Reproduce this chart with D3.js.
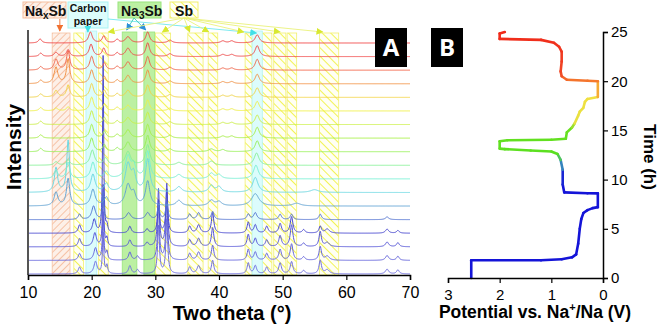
<!DOCTYPE html>
<html>
<head>
<meta charset="utf-8">
<script src="https://cdn.jsdelivr.net/npm/d3@7"></script>
<style>
  body { margin: 0; background: #fff; }
  svg { display: block; font-family: "Liberation Sans", Arial, sans-serif; }
</style>
</head>
<body>
<div id="chart"></div>
<script>
// ---- data ----
const thetaTicks = [10, 20, 30, 40, 50, 60, 70];
const timeTicks = [0, 5, 10, 15, 20, 25];
const potentialTicks = [3, 2, 1, 0];

// one colour per XRD scan, bottom (first) to top (last)
const traceColors = ["#7070e0", "#6464dc", "#5656d8", "#4848d0", "#5474d2", "#62a4d4",
  "#6cd8e2", "#78f0d4", "#88f098", "#98f058", "#a8f048", "#ccf048",
  "#f0f048", "#f2d448", "#f29448", "#f26448", "#f04c4c", "#f04444"];

// peaks of each scan: [two theta, height (in scan spacings), fwhm]
const peakLists = [
  [[18.1,.5,.5],[20.6,.9,.6],[21.8,3.0,.25],[22.4,.6,.3],[26.0,.6,.5],[27.2,.3,.5],[30.5,3.5,.35],[31.8,4.0,.35],[35.4,.5,.5],[36.8,.6,.6],[39.0,1.0,.45],[44.6,.8,.45],[45.7,.6,.5],[47.5,.5,.5],[49.6,.8,.5],[51.4,.9,.5],[53.3,.25,.5],[55.9,1.0,.45],[57.0,.3,.8],[66.4,.35,.6],[68.1,.3,.5]],
  [[18.1,.5,.5],[20.6,.9,.6],[21.8,3.5,.25],[22.4,.6,.3],[26.0,.6,.5],[27.2,.3,.5],[30.5,3.8,.35],[31.8,4.3,.35],[35.4,.5,.5],[36.8,.6,.6],[39.0,1.1,.45],[44.6,.8,.45],[45.7,.6,.5],[47.5,.5,.5],[49.6,.8,.5],[51.4,1.2,.5],[53.3,.25,.5],[55.9,1.0,.45],[57.0,.3,.8],[66.4,.35,.6],[68.1,.3,.5]],
  [[18.1,.6,.5],[20.5,1.0,.6],[21.8,4.5,.25],[22.4,.6,.3],[26.0,.5,.5],[28.7,.3,.5],[30.5,4.2,.35],[31.8,4.6,.35],[35.4,.5,.5],[36.8,.6,.6],[39.0,1.4,.45],[44.6,.9,.45],[45.7,.6,.5],[47.5,.5,.5],[49.6,.8,.5],[51.4,1.6,.5],[53.3,.25,.5],[55.9,1.1,.45],[57.0,.3,.8],[66.4,.35,.6],[68.1,.3,.5]],
  [[18.1,.6,.5],[20.4,1.0,.6],[21.8,13,.2],[22.4,.5,.3],[26.0,.5,.5],[28.7,.3,.5],[30.5,2.4,.35],[31.8,3.2,.35],[35.4,.5,.5],[36.8,.6,.6],[39.0,1.5,.45],[44.6,.8,.45],[45.7,.6,.5],[47.5,.5,.5],[49.6,.7,.5],[51.4,1.2,.5],[53.3,.25,.5],[55.9,.5,.45],[57.0,.3,.8],[66.4,.3,.6],[68.1,.2,.5]],
  [[18.1,.4,.5],[20.3,1.0,.7],[21.8,2.0,.25],[25.8,.5,.8],[28.8,.5,.8],[30.5,1.0,.4],[31.8,1.3,.4],[35.4,.4,.5],[36.8,.5,.6],[39.0,.6,.5],[44.6,.4,.5],[45.7,.5,.6],[49.6,.4,.5],[51.4,.4,.5],[55.9,.4,.5],[66.4,.2,.6]],
  [[14.4,1.0,.7],[16.3,2.0,.6],[20.2,1.2,.8],[22.3,.6,.8],[25.7,1.5,1.0],[26.6,.8,.8],[28.8,1.8,.8],[33.7,.4,1],[38.8,.4,1],[40.0,.3,1],[45.7,.9,1.4],[52.2,.2,1.5]],
  [[14.4,1.8,.6],[16.3,3.8,.5],[20.2,1.3,.8],[22.3,.6,.8],[25.7,2.0,1.0],[26.6,1.2,.8],[28.8,2.4,.8],[33.7,.4,1],[38.8,.5,.9],[40.0,.4,.9],[45.7,1.1,1.0],[55,.2,1.5]],
  [[14.4,.6,.7],[16.3,1.2,.6],[20.2,1.2,.8],[22.3,.5,.8],[25.7,1.6,1.0],[26.6,.9,.8],[28.8,2.0,.8],[33.7,.3,1],[38.8,.4,.9],[40.0,.3,.9],[45.8,1.0,.9]],
  [[14.4,.25,.7],[16.3,.4,.6],[20.1,1.1,.8],[22.2,.5,.8],[25.7,1.0,1.0],[28.8,1.5,.8],[33.7,.2,1],[38.8,.3,1],[45.9,.9,.9]],
  [[12.0,.25,.6],[20.0,1.0,.7],[22.0,.5,.6],[24.0,.25,.6],[25.7,.7,.9],[28.8,1.2,.7],[32.3,.2,.8],[38.8,.2,1],[40.6,.15,.8],[46.0,.8,.8]],
  [[12.0,.25,.6],[20.0,1.0,.7],[22.0,.5,.6],[24.0,.25,.6],[25.7,.6,.9],[28.8,1.0,.7],[32.3,.2,.8],[40.6,.15,.8],[42.0,.15,.8],[46.0,.8,.8]],
  [[12.0,.25,.6],[20.0,1.0,.7],[22.0,.5,.6],[24.0,.25,.6],[25.7,.5,.9],[28.8,.9,.7],[32.3,.2,.8],[40.6,.15,.8],[42.0,.15,.8],[46.0,.7,.8]],
  [[12.0,.25,.6],[14.4,.2,.7],[16.3,.3,.6],[20.0,1.0,.7],[22.0,.5,.6],[24.0,.25,.6],[25.7,.4,.9],[28.8,.8,.7],[32.3,.2,.8],[40.6,.15,.8],[42.0,.15,.8],[46.0,.7,.8]],
  [[12.0,.25,.6],[14.4,.5,.7],[16.3,.9,.6],[20.0,1.0,.7],[22.0,.5,.6],[24.0,.25,.6],[25.7,.5,.9],[28.8,.9,.7],[32.3,.2,.8],[40.6,.15,.8],[42.0,.15,.8],[46.0,.7,.8]],
  [[12.0,.25,.6],[14.4,1.2,.7],[16.3,1.8,.6],[20.0,1.0,.7],[22.0,.5,.6],[24.0,.25,.6],[25.7,.6,.9],[28.8,1.0,.7],[32.3,.2,.8],[40.6,.15,.8],[42.0,.15,.8],[46.0,.7,.8]],
  [[12.0,.25,.6],[14.4,.8,.7],[16.3,1.4,.6],[20.0,1.0,.7],[22.0,.5,.6],[24.0,.25,.6],[25.7,.6,.9],[28.8,1.0,.7],[32.3,.2,.8],[40.6,.15,.8],[42.0,.15,.8],[46.0,.8,.8]],
  [[12.0,.25,.6],[14.4,.3,.7],[16.3,.5,.6],[19.9,.9,.7],[21.9,.6,.6],[24.0,.25,.6],[25.7,.6,.9],[28.8,1.0,.7],[32.3,.2,.8],[40.6,.15,.8],[42.0,.15,.8],[46.0,.8,.8]],
  [[11.9,.3,.6],[19.8,.8,.7],[21.9,.5,.6],[24.0,.25,.6],[25.7,.45,.9],[28.8,.8,.7],[32.3,.2,.8],[40.6,.15,.8],[42.0,.15,.8],[46.0,.6,.8]]
];

// phase marker ranges (two theta)
const naxsbRanges = [[13.8, 16.6]];
const carbonRanges = [[19.1, 20.8], [45.2, 46.8]];
const na3sbRanges = [[24.8, 27.1], [28.2, 29.9]];
const sbRanges = [[17.2, 18.7], [21.1, 22.6], [30.0, 32.4], [35.1, 37.5], [38.3, 39.8],
  [44.1, 45.2], [46.7, 48.3], [48.6, 50.5], [50.7, 52.2], [55.8, 58.8]];

// arrow targets (two theta)
const naxsbArrows = [15.0];
const carbonArrows = [19.4, 45.9];
const na3sbArrows = [25.5, 28.5];
const sbArrows = [22.6, 31.1, 35.4, 38.4, 43.9, 49.6, 56.3];

// galvanostatic profile
const timeH = [0, 1.8, 1.81, 1.9, 2.1, 2.4, 3.5, 5, 6, 6.6, 6.9, 7.1, 7.2, 8.6, 8.62, 8.7, 9.5, 11, 12, 12.6,
  12.85, 12.95, 13.1, 13.15, 13.9, 14.0, 14.05, 14.15, 14.8, 15.3, 15.7, 16.5, 16.9, 17.3, 17.9, 18.2, 18.4,
  20.0, 20.05, 20.15, 20.5, 21, 22, 23, 23.5, 23.9, 24.2, 24.3, 24.85, 25.0];
const potentialV = [2.55, 2.55, 1.2, 0.8, 0.6, 0.52, 0.48, 0.45, 0.42, 0.38, 0.3, 0.2, 0.1, 0.1, 0.3, 0.75,
  0.78, 0.78, 0.82, 0.88, 1.0, 1.4, 1.9, 2.0, 2.0, 1.85, 1.0, 0.72, 0.7, 0.6, 0.55, 0.48, 0.45, 0.38, 0.35, 0.3, 0.1,
  0.1, 0.3, 0.7, 0.8, 0.82, 0.8, 0.8, 0.85, 0.95, 1.2, 2.0, 2.0, 1.9];

// ---- drawing ----
const W = 661, H = 326;
const svg = d3.select("#chart").append("svg").attr("width", W).attr("height", H);
const defs = svg.append("defs");

function hatch(id, color, bg, dir, gap, sw) {
  const p = defs.append("pattern").attr("id", id).attr("patternUnits", "userSpaceOnUse")
    .attr("width", gap).attr("height", gap)
    .attr("patternTransform", "rotate(" + dir + ")");
  p.append("rect").attr("width", gap).attr("height", gap).attr("fill", bg);
  p.append("line").attr("x1", 0).attr("y1", 0).attr("x2", 0).attr("y2", gap)
    .attr("stroke", color).attr("stroke-width", sw);
}
hatch("hNa", "#f2a47a", "#fdf0e8", 45, 5, 1.2);
hatch("hSb", "#eef020", "#fffff4", -45, 6, 1.5);

function marker(id, color) {
  defs.append("marker").attr("id", id).attr("viewBox", "0 0 10 10")
    .attr("refX", 9).attr("refY", 5).attr("markerWidth", 7).attr("markerHeight", 7)
    .attr("markerUnits", "userSpaceOnUse").attr("orient", "auto")
    .append("path").attr("d", "M0,0L10,5L0,10z").attr("fill", color);
}
marker("mNa", "#f07030");
marker("mC", "#40e0e8");
marker("mN3", "#2c90d8");
marker("mSb", "#d8e830");

// panel A scales
const x = d3.scaleLinear().domain([10, 70]).range([28, 410]);
const y = d3.scaleLinear().domain([0, 17]).range([274, 43]);
const bandTop = 33, axisY = 275;

function bands(ranges, fill, stroke, top) {
  svg.append("g").selectAll("rect").data(ranges).enter().append("rect")
    .attr("x", d => x(d[0])).attr("width", d => x(d[1]) - x(d[0]))
    .attr("y", top).attr("height", axisY - top)
    .attr("fill", fill).attr("stroke", stroke).attr("stroke-width", 0.8);
}
bands(naxsbRanges, "url(#hNa)", "#f6c0a0", bandTop);
bands(sbRanges, "url(#hSb)", "#f2f070", bandTop);
bands(carbonRanges, "#dcfcfc", "#b0f4f4", bandTop - 2);
bands(na3sbRanges, "#bcf0a2", "#98e47c", bandTop - 1);

// XRD scans
const thetaGrid = d3.range(10, 70.001, 0.05);
const line = d3.line().x(d => x(d[0])).y(d => y(d[1]));
peakLists.forEach(function(peaks, i) {
  const pts = thetaGrid.map(function(t) {
    let s = 0;
    peaks.forEach(function(p) { const u = (t - p[0]) / (p[2] / 2); s += p[1] / (1 + u * u); });
    return [t, i + s];
  });
  svg.append("path").datum(pts).attr("d", line).attr("fill", "none")
    .attr("stroke", traceColors[i]).attr("stroke-width", 1.0).attr("stroke-linejoin", "round");
});

// left frame line
svg.append("line").attr("x1", 28).attr("x2", 28).attr("y1", 30).attr("y2", axisY)
  .attr("stroke", "#555").attr("stroke-width", 2);

// bottom axis A
const axA = svg.append("g").attr("transform", "translate(0," + axisY + ")");
axA.call(d3.axisBottom(x).tickValues(d3.range(15, 70, 10)).tickSize(3).tickFormat(""));
axA.call(d3.axisBottom(x).tickValues(thetaTicks).tickSize(5).tickFormat(d3.format("d")));
axA.selectAll("path").attr("stroke", "#000").attr("stroke-width", 1.5);
axA.selectAll("line").attr("stroke", "#000").attr("stroke-width", 1.2);
axA.selectAll("text").attr("font-size", 16).attr("font-family", "Liberation Sans, Arial").attr("fill", "#000").attr("dy", "0.95em");

svg.append("text").attr("x", 232).attr("y", 320).attr("text-anchor", "middle")
  .attr("font-size", 20).attr("font-weight", "bold").text("Two theta (°)");
svg.append("text").attr("transform", "translate(21,147) rotate(-90)").attr("text-anchor", "middle")
  .attr("font-size", 21).attr("font-weight", "bold").text("Intensity");

// phase label boxes
function box(x0, y0, w, h, fill, stroke) {
  svg.append("rect").attr("x", x0).attr("y", y0).attr("width", w).attr("height", h)
    .attr("fill", fill).attr("stroke", stroke).attr("stroke-width", 1);
}
box(23, 2, 43, 16, "url(#hNa)", "#f6c0a0");
box(68, 2, 40, 26, "#dcfcfc", "#a8f4f4");
box(118, 2, 43, 16, "#bcf0a2", "#98e47c");
box(170, 2, 28, 16, "url(#hSb)", "#f2f070");

const lab = svg.append("g").attr("font-weight", "bold").attr("fill", "#111");
let t1 = lab.append("text").attr("x", 25).attr("y", 15.5).attr("font-size", 14);
t1.append("tspan").text("Na");
t1.append("tspan").attr("font-size", 10).attr("dy", 3).text("x");
t1.append("tspan").attr("dy", -3).text("Sb");
lab.append("text").attr("x", 88).attr("y", 12).attr("text-anchor", "middle").attr("font-size", 10.5).text("Carbon");
lab.append("text").attr("x", 88).attr("y", 24.5).attr("text-anchor", "middle").attr("font-size", 10.5).text("paper");
let t2 = lab.append("text").attr("x", 121).attr("y", 15.5).attr("font-size", 14);
t2.append("tspan").text("Na");
t2.append("tspan").attr("font-size", 10).attr("dy", 3).text("3");
t2.append("tspan").attr("dy", -3).text("Sb");
lab.append("text").attr("x", 184).attr("y", 15.5).attr("text-anchor", "middle").attr("font-size", 14).text("Sb");

// arrows
function arrows(list, x0, y0, color, mk, yEnd) {
  svg.append("g").selectAll("line").data(list).enter().append("line")
    .attr("x1", x0).attr("y1", y0).attr("x2", d => x(d)).attr("y2", yEnd)
    .attr("stroke", color).attr("stroke-width", 0.9).attr("marker-end", "url(#" + mk + ")");
}
arrows(naxsbArrows, x(15.0), 19, "#f07030", "mNa", 31);
arrows([carbonArrows[0]], x(carbonArrows[0]), 28, "#40e0e8", "mC", 32);
arrows([carbonArrows[1]], 108, 19, "#70e8ee", "mC", 33);
arrows(na3sbArrows, 134, 18, "#40c8b8", "mN3", 30);
arrows(sbArrows, 184, 18, "#eaf27a", "mSb", 32);

// panel letters
function letter(x0, s) {
  svg.append("rect").attr("x", x0).attr("y", 28).attr("width", 32).attr("height", 39).attr("fill", "#000");
  svg.append("text").attr("x", x0 + 16).attr("y", 56).attr("text-anchor", "middle")
    .attr("font-size", 24).attr("font-weight", "bold").attr("fill", "#fff")
    .attr("font-family", "Open Sans, DejaVu Sans, sans-serif").text(s);
}
letter(375, "A");
letter(431, "B");

// panel B
const xv = d3.scaleLinear().domain([3, 0]).range([448, 603]);
const yt = d3.scaleLinear().domain([0, 25]).range([278, 32]);
const baseY = 278, rightX = 603;

const colorT = d3.scaleLinear()
  .domain([0, 10, 11.8, 12.6, 15.3, 15.8, 18.3, 19.5, 20.8, 25])
  .range(["#1414d8", "#1414d8", "#3a9ab8", "#5ae020", "#6ae020", "#e6e040", "#f0e040", "#f89830", "#f04a28", "#f02818"]);

const gP = svg.append("g");
for (let i = 0; i < timeH.length - 1; i++) {
  gP.append("line")
    .attr("x1", xv(potentialV[i])).attr("y1", yt(timeH[i]))
    .attr("x2", xv(potentialV[i + 1])).attr("y2", yt(timeH[i + 1]))
    .attr("stroke", colorT((timeH[i] + timeH[i + 1]) / 2))
    .attr("stroke-width", 2.6).attr("stroke-linecap", "round");
}

const axB = svg.append("g").attr("transform", "translate(0," + baseY + ")");
axB.call(d3.axisBottom(xv).tickValues([2.5, 1.5, 0.5]).tickSize(3).tickFormat(""));
axB.call(d3.axisBottom(xv).tickValues(potentialTicks).tickSize(5).tickFormat(d3.format("d")));
const axT = svg.append("g").attr("transform", "translate(" + rightX + ",0)");
axT.call(d3.axisRight(yt).tickValues(d3.range(2.5, 25, 5)).tickSize(3).tickFormat(""));
axT.call(d3.axisRight(yt).tickValues(timeTicks).tickSize(5).tickFormat(d3.format("d")));
[axB, axT].forEach(function(g) {
  g.selectAll("path").attr("stroke", "#000").attr("stroke-width", 1.5);
  g.selectAll("line").attr("stroke", "#000").attr("stroke-width", 1.2);
  g.selectAll("text").attr("font-size", 15).attr("font-family", "Liberation Sans, Arial").attr("fill", "#000");
});
axB.selectAll("text").attr("dy", "0.95em");

let tp = svg.append("text").attr("x", 535).attr("y", 318).attr("text-anchor", "middle")
  .attr("font-size", 17.5).attr("font-weight", "bold");
tp.append("tspan").text("Potential vs. Na");
tp.append("tspan").attr("font-size", 11).attr("dy", -7).text("+");
tp.append("tspan").attr("dy", 7).text("/Na (V)");
svg.append("text").attr("transform", "translate(644,157) rotate(90)").attr("text-anchor", "middle")
  .attr("font-size", 17).attr("font-weight", "bold").text("Time (h)");
</script>
</body>
</html>
